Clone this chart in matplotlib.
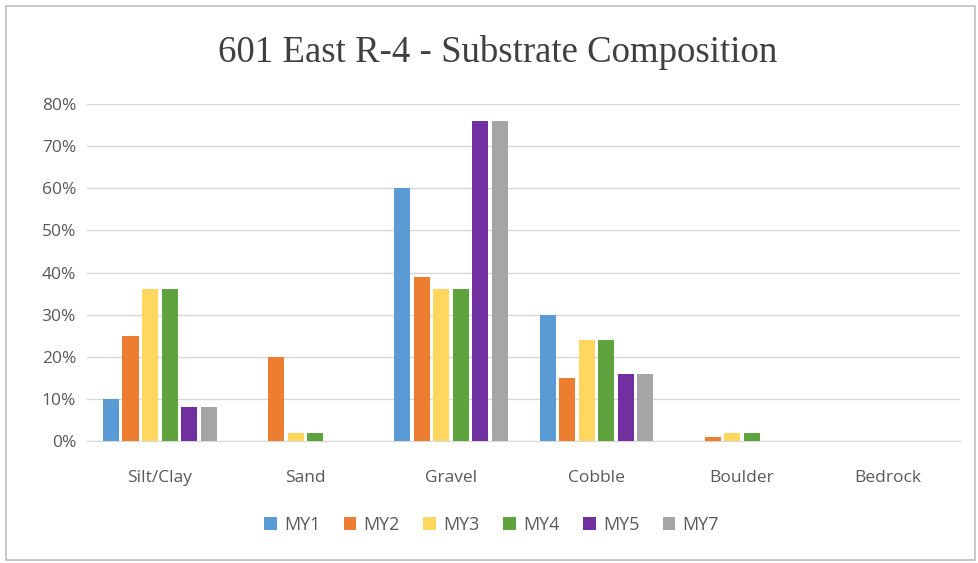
import numpy as np
import matplotlib
matplotlib.use('Agg')
import matplotlib.pyplot as plt
from matplotlib.patches import Rectangle
from matplotlib.ticker import PercentFormatter

categories = ['Silt/Clay', 'Sand', 'Gravel', 'Cobble', 'Boulder', 'Bedrock']
series = ['MY1', 'MY2', 'MY3', 'MY4', 'MY5', 'MY7']
my1 = [10, 0, 60, 30, 0, 0]
my2 = [25, 20, 39, 15, 1, 0]
my3 = [36, 2, 36, 24, 2, 0]
my4 = [36, 2, 36, 24, 2, 0]
my5 = [8, 0, 76, 16, 0, 0]
my7 = [8, 0, 76, 16, 0, 0]
values = [my1, my2, my3, my4, my5, my7]
colors = ['#5B9BD5', '#ED7D31', '#FFD75E', '#5FA33E', '#7030A0', '#A5A5A5']

fig = plt.figure(figsize=(9.79, 5.63), dpi=100)
ax = fig.add_axes([0.089, 0.2167, 0.892, 0.5985])

x = np.arange(len(categories))
step = 0.134
width = 0.112
for i, (name, vals, c) in enumerate(zip(series, values, colors)):
    off = (i - 2.5) * step
    ax.bar(x + off, np.array(vals) / 100, width, color=c, label=name, zorder=3)

ax.set_xlim(-0.5, len(categories) - 0.5)
ax.set_ylim(0, 0.8)
ax.set_yticks(np.arange(0, 0.81, 0.1))
ax.yaxis.set_major_formatter(PercentFormatter(1.0, decimals=0))
ax.grid(axis='y', color='#D9D9D9', linewidth=1, zorder=0)
for s in ['top', 'right', 'left']:
    ax.spines[s].set_visible(False)
ax.spines['bottom'].set_color('#D9D9D9')
ax.tick_params(axis='both', length=0, labelsize=12.5, labelcolor='#595959',
               pad=8)
ax.tick_params(axis='x', pad=21)
ax.set_xticks(x)
ax.set_xticklabels(categories)
for lab in ax.get_xticklabels() + ax.get_yticklabels():
    lab.set_family('Open Sans')

fig.text(0.508, 0.907, '601 East R-4 - Substrate Composition', ha='center',
         va='center', fontsize=26.5, family='Liberation Serif', color='#404040')

leg = fig.legend(loc='center', bbox_to_anchor=(0.502, 0.068), ncol=6,
                 frameon=False, handlelength=0.7, handleheight=0.7,
                 handletextpad=0.4, columnspacing=1.3,
                 prop={'family': 'Open Sans', 'size': 13})
for t in leg.get_texts():
    t.set_color('#595959')

fig.patches.append(Rectangle((0.006, 0.005), 0.99, 0.985, transform=fig.transFigure,
                             fill=False, edgecolor='#BFBFBF', linewidth=1.2))

fig.savefig('out.png', dpi=100)
